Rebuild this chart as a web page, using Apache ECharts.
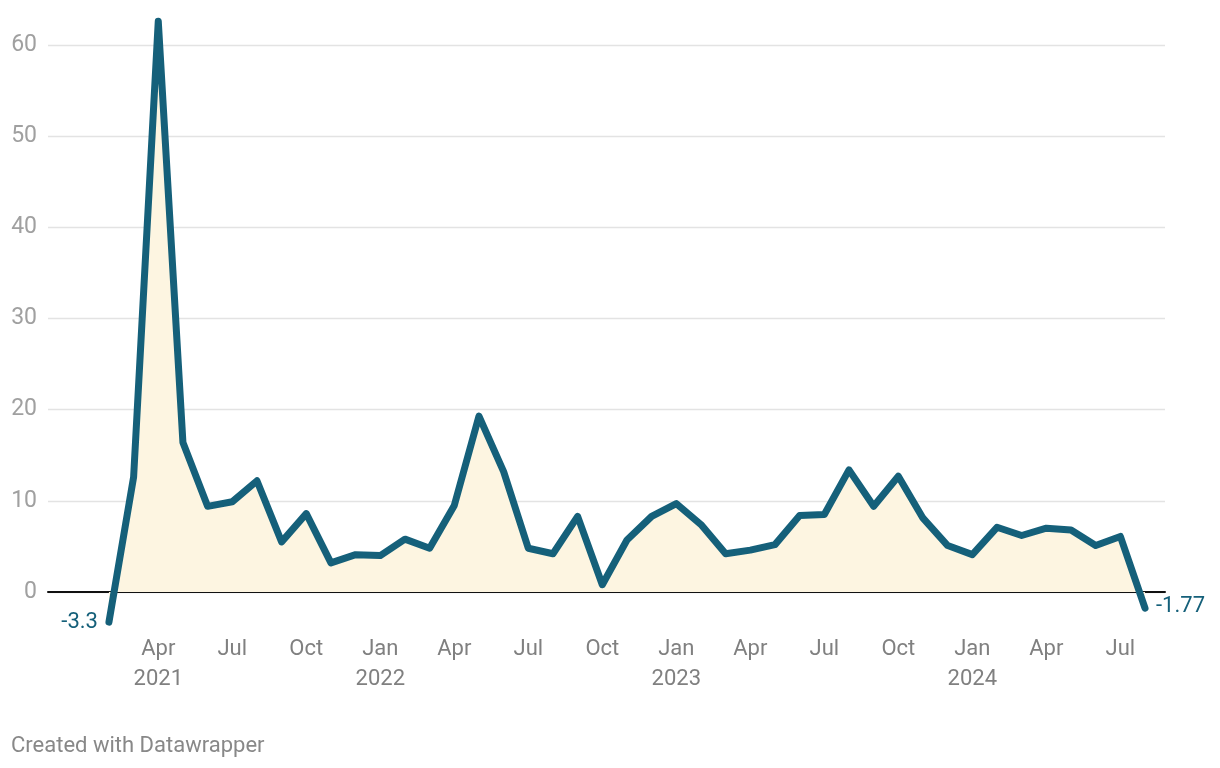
<!DOCTYPE html>
<html>
<head>
<meta charset="utf-8">
<script src="https://cdn.jsdelivr.net/npm/echarts@6/dist/echarts.min.js"></script>
<style>
html,body{margin:0;padding:0;background:#fff;}
#chart{width:1220px;height:768px;}
</style>
</head>
<body>
<div id="chart"></div>
<script>
// Monthly values, Feb 2021 .. Aug 2024
const monthNames = ["Jan","Feb","Mar","Apr","May","Jun","Jul","Aug","Sep","Oct","Nov","Dec"];
const startYear = 2021;
const startMonth = 1; // Feb (0-based)
const values = [
  -3.3, 12.6, 62.6, 16.4, 9.4, 9.9, 12.2, 5.5, 8.6, 3.2, 4.1,
  4.0, 5.8, 4.8, 9.5, 19.3, 13.2, 4.8, 4.2, 8.3, 0.8, 5.7, 8.3,
  9.7, 7.4, 4.2, 4.6, 5.2, 8.4, 8.5, 13.4, 9.4, 12.7, 8.1, 5.1,
  4.1, 7.1, 6.2, 7.0, 6.8, 5.1, 6.1, -1.77
];
const xTickIndices = [2,5,8,11,14,17,20,23,26,29,32,35,38,41];
const yTicks = [0,10,20,30,40,50,60];

const lineColor = '#15607a';
const seriesData = values.map((v,i) => [i, v]);
const lastIdx = values.length - 1;

function labelFor(i){
  const m = (startMonth + i) % 12;
  const y = startYear + Math.floor((startMonth + i)/12);
  const first = i === xTickIndices[0];
  return monthNames[m] + ((m===0 || first) ? '\n' + y : '');
}

const chart = echarts.init(document.getElementById('chart'), null, {renderer:'canvas'});
chart.setOption({
  animation:false,
  backgroundColor:'#fff',
  grid:{left:48, right:55, top:45, bottom:139.5, containLabel:false},
  xAxis:{
    type:'value',
    min:-2.47, max:42.81,
    splitLine:{show:false},
    axisTick:{show:false},
    axisLine:{show:true, onZero:true, lineStyle:{color:'#111111', width:2}},
    axisLabel:{
      customValues:xTickIndices,
      formatter:(v)=>labelFor(Math.round(v)),
      color:'#808080', fontSize:22, fontFamily:'Roboto',
      lineHeight:30, margin:6, align:'center'
    }
  },
  yAxis:{
    type:'value',
    min:-4, max:yTicks[yTicks.length-1],
    axisLine:{show:false},
    axisTick:{show:false, customValues:yTicks},
    splitLine:{show:true, lineStyle:{color:'#e3e3e3', width:1.3}},
    axisLabel:{customValues:yTicks, color:'#a0a0a0', fontSize:23, fontFamily:'Roboto', margin:11,
      formatter:(v)=> String(v)}
  },
  series:[{
    type:'line',
    data:seriesData,
    symbol:'none',
    clip:false,
    lineStyle:{color:lineColor, width:7, cap:'round', join:'round'},
    areaStyle:{color:'#fdf5e1', opacity:1},
    z:3,
    markPoint:{
      symbol:'circle', symbolSize:2,
      itemStyle:{color:lineColor},
      data:[
        {coord:[0, values[0]], value:values[0],
          label:{show:true, position:'left', distance:10, formatter:String(values[0]),
            color:lineColor, fontSize:22, fontFamily:'Roboto'}},
        {coord:[lastIdx, values[lastIdx]], value:values[lastIdx],
          label:{show:true, position:'right', distance:10, formatter:String(values[lastIdx]),
            color:lineColor, fontSize:22, fontFamily:'Roboto', offset:[0,-2]}}
      ]
    }
  }],
  graphic:[{
    type:'text', left:11, top:735,
    style:{text:'Created with Datawrapper', fill:'#888888', fontSize:22, fontFamily:'Roboto'}
  }]
});
</script>
</body>
</html>
